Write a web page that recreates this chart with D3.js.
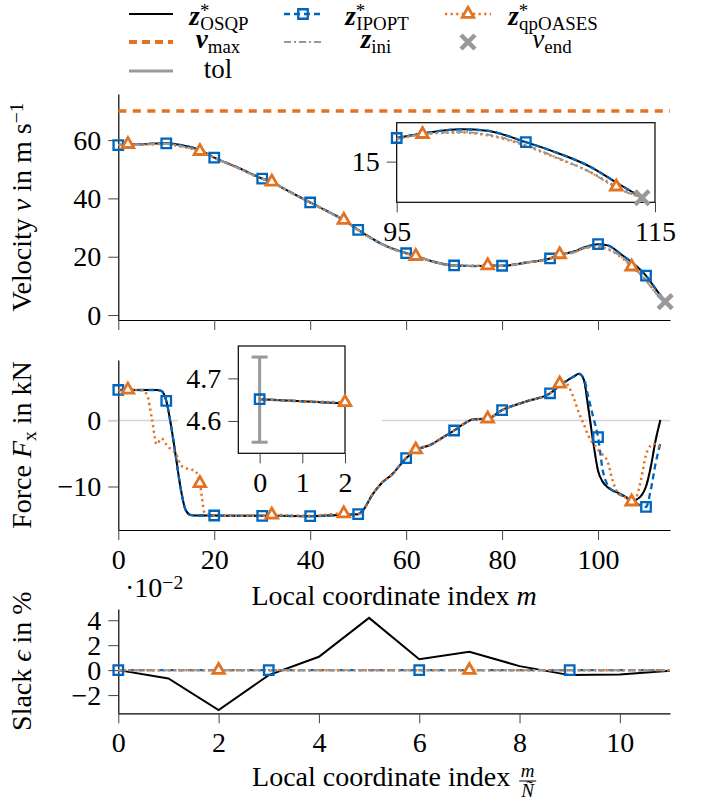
<!DOCTYPE html>
<html>
<head>
<meta charset="utf-8">
<script src="https://cdn.jsdelivr.net/npm/d3@7"></script>
<style>
  body { margin: 0; background: #fff; }
</style>
</head>
<body>
<script>
// ---- data ----
// velocity panel (m = local coordinate index)
const velM      = [0, 2, 5, 10, 13, 17, 20, 25, 30, 32, 35, 40, 45, 47, 50, 55, 60, 62, 65, 70, 75, 77, 80, 85, 90, 92, 95, 97, 100, 102, 105, 107, 110, 112, 114];
const velOSQP   = [58.3, 58.5, 58.6, 58.9, 58.3, 56.6, 54.0, 50.5, 46.8, 45.6, 42.9, 38.6, 34.4, 32.6, 29.2, 24.3, 21.2, 20.3, 18.6, 17.0, 16.8, 16.9, 16.9, 18.0, 19.4, 20.6, 21.8, 23.1, 24.3, 23.9, 20.6, 18.1, 13.5, 9.0, 4.6];
const velIPOPT  = [58.3, 58.5, 58.6, 58.9, 58.3, 56.6, 54.0, 50.5, 46.8, 45.6, 42.9, 38.6, 34.4, 32.6, 29.2, 24.3, 21.2, 20.3, 18.6, 17.0, 16.8, 16.9, 16.9, 18.0, 19.4, 20.6, 21.8, 23.1, 24.3, 23.9, 20.6, 18.1, 13.5, 9.0, 4.6];
const velQP     = [58.3, 58.6, 58.5, 58.7, 57.8, 56.2, 53.9, 50.4, 46.7, 45.7, 42.9, 38.6, 34.3, 32.6, 29.1, 24.2, 21.1, 20.2, 18.6, 17.0, 16.9, 17.0, 16.9, 18.0, 19.3, 20.8, 21.5, 22.9, 23.4, 22.6, 19.6, 16.6, 12.0, 7.8, 4.6];
const velIni    = [58.3, 58.5, 58.5, 58.7, 57.9, 56.2, 53.9, 50.4, 46.7, 45.6, 42.9, 38.6, 34.3, 32.5, 29.1, 24.2, 21.1, 20.2, 18.6, 17.0, 16.9, 16.9, 16.9, 18.0, 19.3, 20.6, 21.4, 22.8, 23.5, 22.8, 19.8, 16.8, 11.9, 7.5, 4.6];
const vMax = 70;
const vEnd = [114, 4.6];
const velSquareM = [0, 10, 20, 30, 40, 50, 60, 70, 80, 90, 100, 110];
const velTriangleM = [2, 17, 32, 47, 62, 77, 92, 107];
const velInsetSquareM = [95, 105];
const velInsetTriangleM = [97, 112];

// force panel
const forceM     = [0, 2, 5, 6, 7, 8, 9, 10, 11, 12, 13, 14, 15, 16, 17, 18, 20, 25, 30, 32, 40, 47, 50, 51, 53, 55, 57, 60, 62, 65, 68, 70, 72, 74, 77, 80, 85, 90, 92, 93, 94, 95, 96, 97, 98, 99, 100, 101, 102, 103, 104, 106, 107, 108, 109, 110, 111, 112, 113];
const forceOSQP  = [4.65, 4.65, 4.65, 4.65, 4.65, 4.65, 4.5, 3.0, -0.8, -5.5, -10.3, -13.5, -14.3, -14.4, -14.4, -14.4, -14.4, -14.45, -14.45, -14.45, -14.5, -14.3, -14.2, -13.6, -11.2, -9.4, -8.2, -5.7, -4.5, -3.7, -2.4, -1.5, -0.5, 0.2, 0.3, 1.6, 2.9, 4.15, 5.3, 5.8, 6.3, 6.7, 7.1, 6.3, 1.8, -3.3, -7.6, -9.3, -10.1, -10.6, -10.9, -11.7, -12.2, -12.0, -11.4, -10.0, -7.0, -3.0, 0.1];
const forceIPOPT = [4.65, 4.65, 4.65, 4.65, 4.65, 4.65, 4.5, 3.0, -0.8, -5.5, -10.3, -13.5, -14.3, -14.4, -14.4, -14.4, -14.4, -14.45, -14.45, -14.45, -14.5, -14.3, -14.2, -13.6, -11.2, -9.4, -8.2, -5.7, -4.5, -3.7, -2.4, -1.5, -0.5, 0.2, 0.3, 1.6, 2.9, 4.15, 5.3, 5.8, 6.3, 6.7, 7.1, 6.5, 3.5, 0.5, -2.5, -7.6, -9.8, -10.6, -11.0, -11.8, -12.2, -12.6, -12.9, -13.1, -10.5, -6.5, -3.4];
const forceQP    = [4.65, 4.68, 4.6, 3.9, 0.3, -3.6, -2.7, -3.6, -4.4, -5.0, -6.7, -7.2, -7.4, -7.6, -9.5, -14.0, -14.4, -14.45, -14.45, -14.3, -14.45, -14.1, -14.2, -13.6, -11.2, -9.4, -8.2, -5.6, -4.4, -3.7, -2.4, -1.5, -0.5, 0.2, 0.3, 1.6, 2.9, 4.15, 5.6, 5.9, 5.0, 3.3, 1.2, -0.5, -2.3, -3.5, -4.4, -5.2, -6.2, -9.0, -10.8, -11.8, -12.3, -11.6, -8.8, -5.2, -3.8, -3.5, -4.2];
const forceIni   = [4.65, 4.65, 4.65, 4.65, 4.65, 4.65, 4.5, 3.0, -0.8, -5.5, -10.3, -13.5, -14.3, -14.4, -14.4, -14.4, -14.4, -14.45, -14.45, -14.45, -14.5, -14.3, -14.2, -13.6, -11.2, -9.4, -8.2, -5.7, -4.5, -3.7, -2.4, -1.5, -0.5, 0.2, 0.3, 1.6, 2.9, 4.15, 5.3, 5.8, 6.3, 6.7, 7.1, 6.3, 1.8, -3.3, -7.6, -9.3, -10.1, -10.6, -10.9, -11.7, -12.2, -12.0, -11.4, -10.0, -7.0, -3.0, 0.1];
const forceSquareM = [0, 10, 20, 30, 40, 50, 60, 70, 80, 90, 100, 110];
const forceTriangleM = [2, 17, 32, 47, 62, 77, 92, 107];

// force inset (first three indices) and tolerance bar
const insetM      = [0, 1, 2];
const insetOSQP   = [4.651, 4.646, 4.641];
const insetIPOPT  = [4.651, 4.646, 4.641];
const insetQP     = [4.651, 4.646, 4.6437];
const tolM = 0, tolLow = 4.55, tolHigh = 4.75;

// slack panel (values in 1e-2 %)
const slackM     = [0, 1, 2, 3, 4, 5, 6, 7, 8, 9, 10, 11];
const slackOSQP  = [0, -0.67, -3.2, -0.4, 1.07, 4.19, 0.88, 1.47, 0.32, -0.4, -0.35, -0.05];
const slackIPOPT = [0, 0, 0, 0, 0, 0, 0, 0, 0, 0, 0, 0];
const slackQP    = [0, 0, 0, 0, 0, 0, 0, 0, 0, 0, 0, 0];
const slackIni   = [0, 0, 0, 0, 0, 0, 0, 0, 0, 0, 0, 0];
const slackSquareM = [0, 3, 6, 9];
const slackTriangleM = [2, 7];

// ---- styling ----
const BLUE = "#0065bd", ORANGE = "#e37222", GRAY = "#999999", LIGHT = "#d4d4d4";
const FONT = "'Liberation Serif', 'Times New Roman', serif";
const FS = 28;       // tick and axis labels
const LFS = 27;      // legend
const st = {
  osqp:  { stroke: "#000", width: 2 },
  ipopt: { stroke: BLUE, width: 2.3, dash: "6,4" },
  qp:    { stroke: ORANGE, width: 2.5, dash: "2.2,3.4" },
  ini:   { stroke: GRAY, width: 2, dash: "7,3,2,3" }
};

const svg = d3.select("body").append("svg").attr("width", 701).attr("height", 804);

const x = d3.scaleLinear().domain([0, 115]).range([118.3, 670]);
const xs = d3.scaleLinear().domain([0, 11]).range([118.3, 670]);
const yVel = d3.scaleLinear().domain([-1.7, 75.8]).range([320, 94]);
const yForce = d3.scaleLinear().domain([-16.6, 9.2]).range([530, 360]);
const ySlack = d3.scaleLinear().domain([-3.46, 4.9]).range([713.3, 609]);
const xInV = d3.scaleLinear().domain([95, 115]).range([396.7, 655]);
const yInV = d3.scaleLinear().domain([3.3, 26.2]).range([202.3, 122.7]);
const xInF = d3.scaleLinear().domain([-0.5, 2]).range([238.3, 345]);
const yInF = d3.scaleLinear().domain([4.524, 4.776]).range([453.3, 346]);

const pairs = (ms, vs) => ms.map((m, i) => [m, vs[i]]);
const pick = (ms, vs, wanted) => wanted.map(m => [m, vs[ms.indexOf(m)]]);

function styleAxis(a) {
  a.attr("font-size", FS);
  a.select(".domain").attr("stroke", "#000").attr("stroke-width", 1.2);
  a.selectAll(".tick line").attr("stroke", "#444").attr("stroke-width", 1);
  a.selectAll(".tick text").attr("fill", "#000").style("font-family", FONT);
  return a;
}
function leftAxis(g, scale, ticks, fmt, x0, noDomain) {
  const a = g.append("g").attr("transform", `translate(${x0},0)`)
    .call(d3.axisLeft(scale).tickValues(ticks).tickSize(10).tickSizeOuter(0).tickPadding(7).tickFormat(fmt));
  if (noDomain) a.select(".domain").remove();
  return styleAxis(a);
}
function bottomAxis(g, scale, ticks, fmt, y0, noDomain) {
  const a = g.append("g").attr("transform", `translate(0,${y0})`)
    .call(d3.axisBottom(scale).tickValues(ticks).tickSize(10).tickSizeOuter(0).tickPadding(9).tickFormat(fmt));
  if (noDomain) a.select(".domain").remove();
  return styleAxis(a);
}

function drawLines(g, list, sx, sy, curve) {
  const line = d3.line().x(d => sx(d[0])).y(d => sy(d[1])).curve(curve);
  list.forEach(s => {
    g.append("path").attr("d", line(s.data)).attr("fill", "none")
      .attr("stroke", s.st.stroke).attr("stroke-width", s.st.width)
      .attr("stroke-dasharray", s.st.dash || null);
  });
}
const sqPath = d3.symbol(d3.symbolSquare, 90)();
const triPath = d3.symbol(d3.symbolTriangle, 58)();
const xPath = "M-7,-7L7,7M-7,7L7,-7";
function marks(g, pts, sx, sy, kind) {
  const p = g.selectAll(null).data(pts).join("path")
    .attr("transform", d => `translate(${sx(d[0])},${sy(d[1])})`);
  if (kind === "sq") p.attr("d", sqPath).attr("fill", "none").attr("stroke", BLUE).attr("stroke-width", 2.3);
  if (kind === "tri") p.attr("d", triPath).attr("fill", "#fff").attr("stroke", ORANGE).attr("stroke-width", 2.8);
  if (kind === "x") p.attr("d", xPath).attr("fill", "none").attr("stroke", GRAY).attr("stroke-width", 4.5);
}

// text with italic / bold pieces, sub- and superscripts
function rich(g, x0, y0, parts, anchor, size) {
  const fs = size || FS;
  const t = g.append("text").attr("x", x0).attr("y", y0)
    .attr("text-anchor", anchor || "middle").attr("font-size", fs)
    .style("font-family", FONT);
  let off = 0;
  parts.forEach(p => {
    const s = t.append("tspan").text(p.t);
    const target = p.sup ? -0.3 * fs : p.sub ? 0.18 * fs : 0;
    s.attr("dy", target - off);
    off = target;
    if (p.dx) s.attr("dx", p.dx);
    if (p.sup || p.sub) s.attr("font-size", fs * 0.7);
    if (p.i) s.attr("font-style", "italic");
    if (p.b) s.attr("font-weight", "bold");
  });
  return t;
}

// ---- legend ----
const leg = svg.append("g");
function legLine(y0, s) {
  leg.append("line").attr("x1", s.x1).attr("x2", s.x2).attr("y1", y0).attr("y2", y0)
    .attr("stroke", s.stroke).attr("stroke-width", s.width).attr("stroke-dasharray", s.dash || null);
}
legLine(14, { ...st.osqp, x1: 129, x2: 173 });
legLine(14, { ...st.ipopt, x1: 284, x2: 322 });
legLine(14, { ...st.qp, x1: 445, x2: 491 });
legLine(42, { stroke: ORANGE, width: 4, dash: "8,5", x1: 129, x2: 173 });
legLine(42, { ...st.ini, x1: 284, x2: 322 });
legLine(71, { stroke: GRAY, width: 3, x1: 129, x2: 173 });
marks(leg, [[303, 14]], v => v, v => v, "sq");
marks(leg, [[468, 14]], v => v, v => v, "tri");
marks(leg, [[468, 42]], v => v, v => v, "x");
const star = [{ t: "z", i: 1, b: 1 }, { t: "*", sup: 1 }];
rich(leg, 219, 25, [...star, { t: "OSQP", sub: 1, dx: -9 }], "middle", LFS);
rich(leg, 377, 25, [...star, { t: "IPOPT", sub: 1, dx: -9 }], "middle", LFS);
rich(leg, 553, 25, [...star, { t: "qpOASES", sub: 1, dx: -9 }], "middle", LFS);
rich(leg, 218, 48, [{ t: "v", i: 1, b: 1 }, { t: "max", sub: 1 }], "middle", LFS);
rich(leg, 376, 48, [{ t: "z", i: 1, b: 1 }, { t: "ini", sub: 1 }], "middle", LFS);
rich(leg, 552, 48, [{ t: "v", i: 1 }, { t: "end", sub: 1 }], "middle", LFS);
rich(leg, 218, 78, [{ t: "tol" }], "middle", LFS);

// ---- velocity panel ----
const gv = svg.append("g");
leftAxis(gv, yVel, [0, 20, 40, 60], d3.format("d"), x(0));
bottomAxis(gv, x, [0, 20, 40, 60, 80, 100], () => "", yVel.range()[0]);
gv.append("line").attr("x1", x(0)).attr("x2", x(115)).attr("y1", yVel(vMax)).attr("y2", yVel(vMax))
  .attr("stroke", ORANGE).attr("stroke-width", 3.5).attr("stroke-dasharray", "8,6.5");
const velSeries = [
  { data: pairs(velM, velOSQP), st: st.osqp },
  { data: pairs(velM, velIPOPT), st: st.ipopt },
  { data: pairs(velM, velQP), st: st.qp },
  { data: pairs(velM, velIni), st: st.ini }
];
drawLines(gv, velSeries, x, yVel, d3.curveMonotoneX);
marks(gv, pick(velM, velIPOPT, velSquareM), x, yVel, "sq");
marks(gv, pick(velM, velQP, velTriangleM), x, yVel, "tri");
marks(gv, [vEnd], x, yVel, "x");
rich(gv, 0, 0, [{ t: "Velocity " }, { t: "v", i: 1 }, { t: " in m s" }, { t: "−1", sup: 1 }])
  .attr("transform", `translate(31,${(yVel.range()[0] + yVel.range()[1]) / 2}) rotate(-90)`).attr("x", null).attr("y", null);

// velocity inset
const gi = svg.append("g");
gi.append("rect").attr("x", xInV.range()[0]).attr("y", yInV.range()[1])
  .attr("width", xInV.range()[1] - xInV.range()[0]).attr("height", yInV.range()[0] - yInV.range()[1])
  .attr("fill", "#fff").attr("stroke", "#000").attr("stroke-width", 1.2);
leftAxis(gi, yInV, [15], d3.format("d"), xInV.range()[0], true);
bottomAxis(gi, xInV, [95, 115], d3.format("d"), yInV.range()[0], true);
const inRange = d => d[0] >= 95;
drawLines(gi, velSeries.map(s => ({ data: s.data.filter(inRange), st: s.st })), xInV, yInV, d3.curveMonotoneX);
marks(gi, pick(velM, velIPOPT, velInsetSquareM), xInV, yInV, "sq");
marks(gi, pick(velM, velQP, velInsetTriangleM), xInV, yInV, "tri");
marks(gi, [vEnd], xInV, yInV, "x");

// ---- force panel ----
const gf = svg.append("g");
gf.append("line").attr("x1", x(0) - 10).attr("x2", x(115)).attr("y1", yForce(0)).attr("y2", yForce(0))
  .attr("stroke", LIGHT).attr("stroke-width", 1.5);
// white node behind the inset (cuts the zero line)
gf.append("rect").attr("x", 178).attr("y", 338).attr("width", 204).attr("height", 160).attr("fill", "#fff");
const fa = leftAxis(gf, yForce, [-10, 0], d3.format("d"), x(0));
fa.selectAll(".tick line").filter(d => d === 0).attr("stroke", LIGHT).attr("stroke-width", 1.5);
bottomAxis(gf, x, [0, 20, 40, 60, 80, 100], d3.format("d"), yForce.range()[0]);
drawLines(gf, [
  { data: pairs(forceM, forceIni), st: st.ini },
  { data: pairs(forceM, forceOSQP), st: st.osqp },
  { data: pairs(forceM, forceIPOPT), st: st.ipopt },
  { data: pairs(forceM, forceQP), st: st.qp }
], x, yForce, d3.curveMonotoneX);
marks(gf, pick(forceM, forceIPOPT, forceSquareM), x, yForce, "sq");
marks(gf, pick(forceM, forceQP, forceTriangleM), x, yForce, "tri");
rich(gf, 0, 0, [{ t: "Force " }, { t: "F", i: 1 }, { t: "x", sub: 1 }, { t: " in kN" }])
  .attr("transform", `translate(31,${(yForce.range()[0] + yForce.range()[1]) / 2}) rotate(-90)`).attr("x", null).attr("y", null);
rich(gf, (x.range()[0] + x.range()[1]) / 2, 605, [{ t: "Local coordinate index " }, { t: "m", i: 1 }]);

// force inset
const gj = svg.append("g");
gj.append("rect").attr("x", xInF.range()[0]).attr("y", yInF.range()[1])
  .attr("width", xInF.range()[1] - xInF.range()[0]).attr("height", yInF.range()[0] - yInF.range()[1])
  .attr("fill", "#fff").attr("stroke", "#000").attr("stroke-width", 1.2);
leftAxis(gj, yInF, [4.6, 4.7], d3.format(".1f"), xInF.range()[0], true);
bottomAxis(gj, xInF, [0, 1, 2], d3.format("d"), yInF.range()[0], true);
gj.append("line").attr("x1", xInF(tolM)).attr("x2", xInF(tolM)).attr("y1", yInF(tolLow)).attr("y2", yInF(tolHigh))
  .attr("stroke", GRAY).attr("stroke-width", 3);
[tolLow, tolHigh].forEach(v => gj.append("line").attr("x1", xInF(tolM) - 8).attr("x2", xInF(tolM) + 8)
  .attr("y1", yInF(v)).attr("y2", yInF(v)).attr("stroke", GRAY).attr("stroke-width", 3));
drawLines(gj, [
  { data: pairs(insetM, insetOSQP), st: st.osqp },
  { data: pairs(insetM, insetIPOPT), st: st.ipopt },
  { data: pairs(insetM, insetQP), st: st.qp }
], xInF, yInF, d3.curveLinear);
marks(gj, pick(insetM, insetIPOPT, [0]), xInF, yInF, "sq");
marks(gj, pick(insetM, insetQP, [2]), xInF, yInF, "tri");

// ---- slack panel ----
const gs = svg.append("g");
leftAxis(gs, ySlack, [-2, 0, 2, 4], d3.format("d"), xs(0));
bottomAxis(gs, xs, [0, 2, 4, 6, 8, 10], d3.format("d"), ySlack.range()[0]);
drawLines(gs, [
  { data: pairs(slackM, slackOSQP), st: st.osqp },
  { data: pairs(slackM, slackIPOPT), st: st.ipopt },
  { data: pairs(slackM, slackQP), st: st.qp },
  { data: pairs(slackM, slackIni), st: st.ini }
], xs, ySlack, d3.curveLinear);
marks(gs, pick(slackM, slackIPOPT, slackSquareM), xs, ySlack, "sq");
marks(gs, pick(slackM, slackQP, slackTriangleM), xs, ySlack, "tri");
rich(gs, 125, 597, [{ t: "·10" }, { t: "−2", sup: 1 }], "start");
rich(gs, 0, 0, [{ t: "Slack " }, { t: "ϵ", i: 1 }, { t: " in %" }])
  .attr("transform", `translate(31,${(ySlack.range()[0] + ySlack.range()[1]) / 2}) rotate(-90)`).attr("x", null).attr("y", null);

// bottom x label with the m / Ñ fraction
const lbl = rich(gs, 0, 786, [{ t: "Local coordinate index" }], "start");
const lw = lbl.node().getComputedTextLength();
const gap = 9, fracW = 17;
const lx = (xs.range()[0] + xs.range()[1]) / 2 - (lw + gap + fracW) / 2;
lbl.attr("x", lx);
const fx = lx + lw + gap + fracW / 2;
[["m", 777], ["Ñ", 797]].forEach(([s, yy]) => gs.append("text").attr("x", fx).attr("y", yy)
  .attr("text-anchor", "middle").attr("font-size", 19).attr("font-style", "italic")
  .style("font-family", FONT).text(s));
gs.append("line").attr("x1", fx - fracW / 2).attr("x2", fx + fracW / 2).attr("y1", 781).attr("y2", 781)
  .attr("stroke", "#000").attr("stroke-width", 1);
</script>
</body>
</html>
